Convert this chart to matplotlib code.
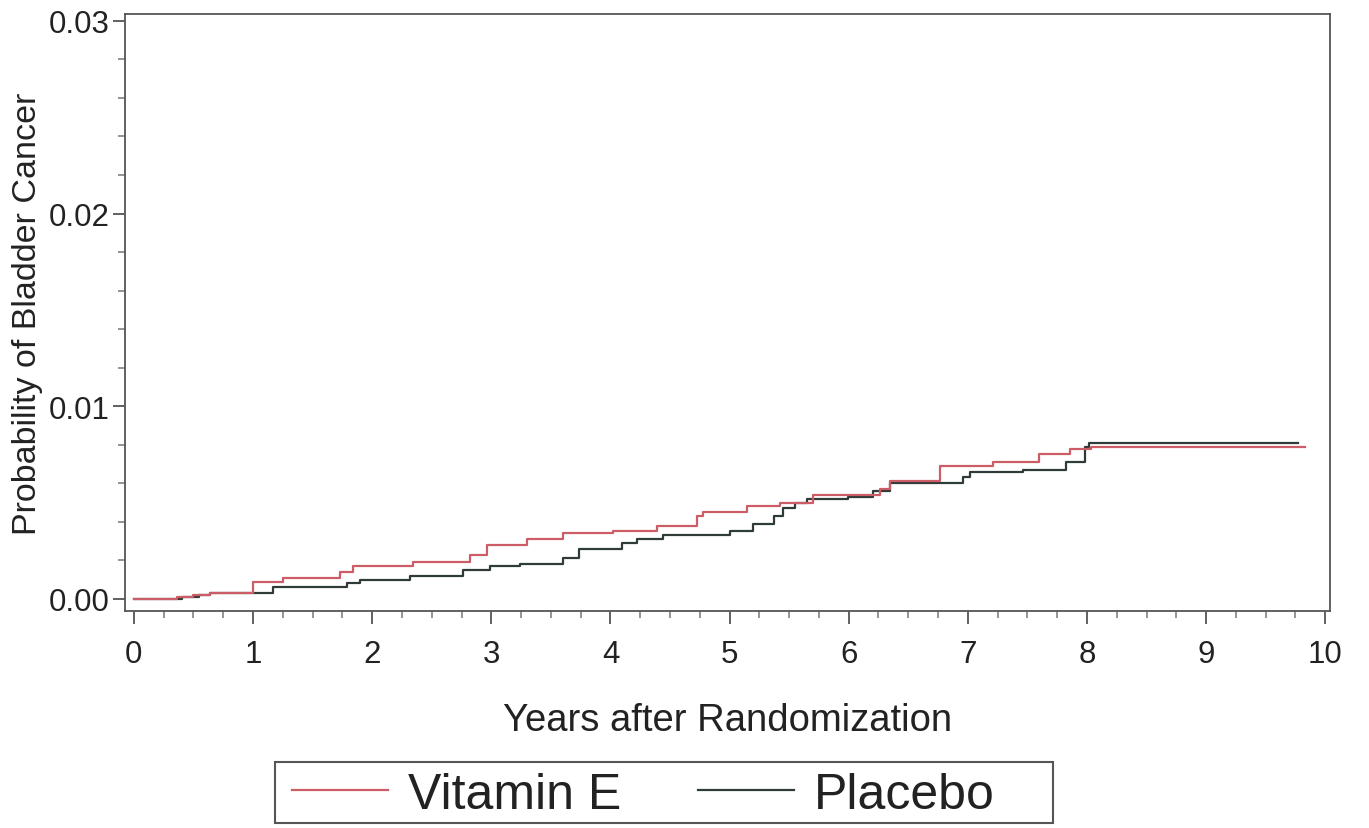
import matplotlib
matplotlib.use('Agg')
from matplotlib import pyplot as plt
from matplotlib.patches import Rectangle
from matplotlib.ticker import MultipleLocator, FormatStrFormatter

plt.rcParams['font.family'] = ['Liberation Sans', 'DejaVu Sans']

# Kaplan-Meier style cumulative probability
vit_t = [0, 0.36, 0.5, 0.64, 1.0, 1.25, 1.73, 1.84, 2.34, 2.82, 2.96, 3.3, 3.6,
         4.02, 4.39, 4.73, 4.78, 5.15, 5.42, 5.7, 6.26, 6.35, 6.77, 7.21, 7.6,
         7.86, 8.03, 9.83]
vit_p = [0, 0.0001, 0.0002, 0.0003, 0.0009, 0.0011, 0.0014, 0.0017, 0.0019,
         0.0023, 0.0028, 0.0031, 0.0034, 0.0035, 0.0038, 0.0043, 0.0045, 0.0048,
         0.0050, 0.0054, 0.0057, 0.0061, 0.0069, 0.0071, 0.0075, 0.0078, 0.0079,
         0.0079]

pla_t = [0, 0.4, 0.55, 0.64, 1.17, 1.79, 1.9, 2.32, 2.76, 2.99, 3.24, 3.6, 3.74,
         4.1, 4.22, 4.44, 5.0, 5.2, 5.37, 5.45, 5.55, 5.65, 5.99, 6.2, 6.35, 6.96,
         7.02, 7.46, 7.82, 7.98, 8.02, 9.77]
pla_p = [0, 0.0001, 0.0002, 0.0003, 0.0006, 0.0008, 0.0010, 0.0012, 0.0015,
         0.0017, 0.0018, 0.0021, 0.0026, 0.0029, 0.0031, 0.0033, 0.0035, 0.0039,
         0.0043, 0.0047, 0.0050, 0.0052, 0.0053, 0.0056, 0.0060, 0.0063, 0.0066,
         0.0067, 0.0071, 0.0079, 0.0081, 0.0081]

labels = ['Vitamin E', 'Placebo']
colors = ['#cc5c66', '#2e3b38']

fig = plt.figure(figsize=(13.69, 8.29), dpi=100)
ax = fig.add_axes([0.0913, 0.262, 0.8802, 0.720])

ax.step(pla_t, pla_p, where='post', color=colors[1], lw=1.6, label=labels[1])
ax.step(vit_t, vit_p, where='post', color=colors[0], lw=1.6, label=labels[0])

ax.set_xlim(-0.075, 10.04)
ax.set_ylim(-0.00062, 0.03036)
ax.xaxis.set_major_locator(MultipleLocator(1))
ax.xaxis.set_minor_locator(MultipleLocator(0.25))
ax.yaxis.set_major_locator(MultipleLocator(0.01))
ax.yaxis.set_minor_locator(MultipleLocator(0.002))
ax.yaxis.set_major_formatter(FormatStrFormatter('%.2f'))

for s in ax.spines.values():
    s.set_color('#555555')
    s.set_linewidth(1.3)
ax.tick_params(which='major', length=9, width=1.3, color='#555555',
               labelsize=22.5, labelcolor='#222222')
ax.tick_params(which='minor', length=5, width=1.1, color='#777777')
ax.tick_params(axis='x', which='major', pad=11)
ax.tick_params(axis='y', which='major', pad=2)

ax.set_xlabel('Years after Randomization', fontsize=27.5, color='#222222', labelpad=24)
ax.set_ylabel('Probability of Bladder Cancer', fontsize=24.5, color='#222222', labelpad=4)

handles, labs = ax.get_legend_handles_labels()
order = [1, 0]
leg = fig.legend([handles[i] for i in order], [labs[i] for i in order],
                 loc='center left', bbox_to_anchor=(292 / 1369, 0.040), ncol=2,
                 fontsize=36, frameon=False, handlelength=1.92, handletextpad=0.4,
                 columnspacing=1.54, borderpad=0.0, borderaxespad=0.0)
for t in leg.get_texts():
    t.set_color('#222222')
# legend frame is wider than its entries in the original
fig.add_artist(Rectangle((0.2009, 0.006), 0.5683, 0.0736, transform=fig.transFigure,
                         fill=False, edgecolor='#555555', linewidth=1.5))

fig.savefig('out.png', dpi=100)
